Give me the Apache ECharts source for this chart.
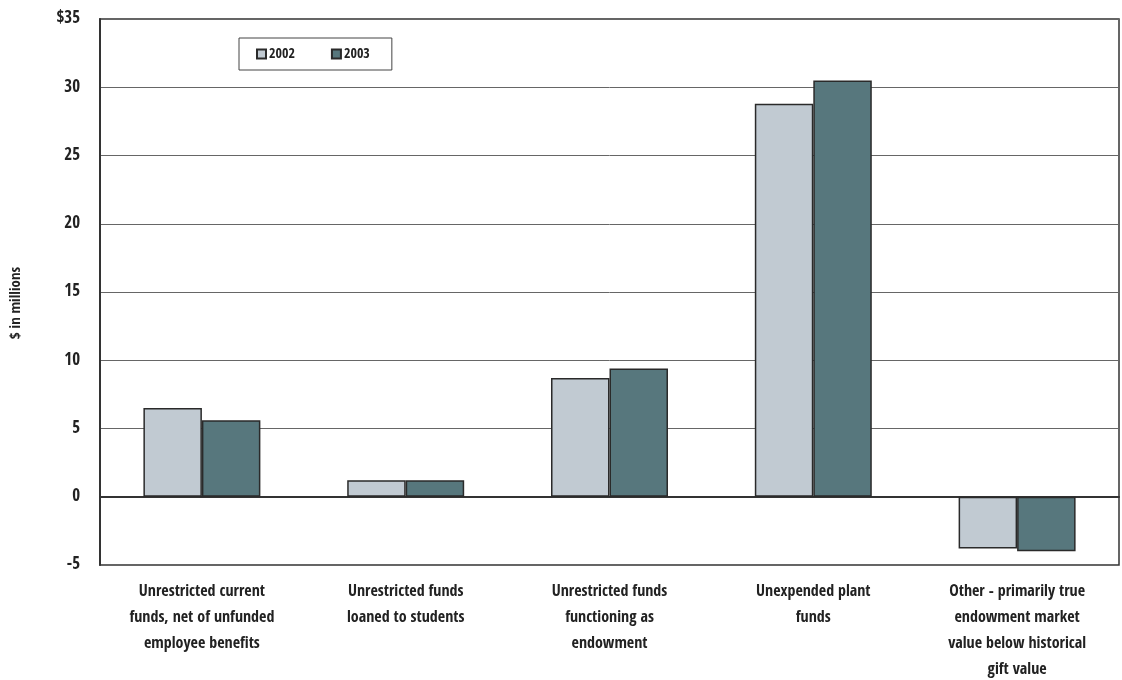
<!DOCTYPE html>
<html>
<head>
<meta charset="utf-8">
<script src="https://cdn.jsdelivr.net/npm/echarts@6/dist/echarts.min.js"></script>
<style>
html,body{margin:0;padding:0;background:#fff;}
#chart{width:1122px;height:680px;}
</style>
</head>
<body>
<div id="chart"></div>
<script>
const categories = [
  "Unrestricted current\nfunds, net of unfunded\nemployee benefits",
  "Unrestricted funds\nloaned to students",
  "Unrestricted funds\nfunctioning as\nendowment",
  "Unexpended plant\nfunds",
  "Other - primarily true\nendowment market\nvalue below historical\ngift value"
];
const values2002 = [6.5, 1.2, 8.7, 28.8, -3.8];
const values2003 = [5.6, 1.2, 9.4, 30.5, -4.0];
const seriesNames = ["2002", "2003"];
const yTicks = { min: -5, max: 35, interval: 5 };

const FONT = '"Open Sans Condensed", "Roboto Condensed", "DejaVu Sans Condensed", sans-serif';
const chart = echarts.init(document.getElementById('chart'));
chart.setOption({
  animation: false,
  backgroundColor: '#fff',
  grid: { left: 100, right: 3, top: 19, bottom: 115, show: true, borderColor: '#333', borderWidth: 1.5, outerBoundsMode: 'none', containLabel: false },
  legend: {
    left: 239, top: 38,
    padding: [9, 22, 9, 17],
    borderColor: '#444', borderWidth: 1,
    itemWidth: 9, itemHeight: 9, itemGap: 36,
    textStyle: { fontFamily: FONT, fontWeight: 'bold', fontSize: 14, color: '#222', padding: [0,0,0,-2] },
    data: seriesNames.map(n => ({ name: n, icon: 'rect' }))
  },
  xAxis: {
    type: 'category',
    data: categories,
    axisLine: { show: true, lineStyle: { color: '#333', width: 2 } },
    axisTick: { show: false },
    axisLabel: { interval: 0, margin: 14, fontFamily: FONT, fontWeight: 'bold', fontSize: 16, lineHeight: 26, color: '#222' },
    splitLine: { show: false }
  },
  yAxis: {
    type: 'value',
    min: yTicks.min, max: yTicks.max, interval: yTicks.interval,
    name: '$ in millions',
    nameLocation: 'middle', nameRotate: 90, nameGap: 76,
    nameTextStyle: { fontFamily: FONT, fontWeight: 'bold', fontSize: 15, color: '#222', padding: [0, 22, 0, 0] },
    axisLine: { show: true, lineStyle: { color: '#333', width: 2 } },
    axisTick: { show: false },
    axisLabel: { margin: 20, fontFamily: FONT, fontWeight: 'bold', fontSize: 17, color: '#222',
      formatter: v => v === yTicks.max ? '$' + v : String(v) },
    splitLine: { show: true, lineStyle: { color: '#666', width: 1 } }
  },
  series: [
    { name: seriesNames[0], type: 'bar', data: values2002, barGap: '0%', barCategoryGap: '42.6%',
      itemStyle: { color: '#C1CAD2', borderColor: '#2a2a2a', borderWidth: 1.5 } },
    { name: seriesNames[1], type: 'bar', data: values2003, barGap: '0%', barCategoryGap: '42.6%',
      itemStyle: { color: '#57777D', borderColor: '#2a2a2a', borderWidth: 1.5 } }
  ]
});
</script>
</body>
</html>
